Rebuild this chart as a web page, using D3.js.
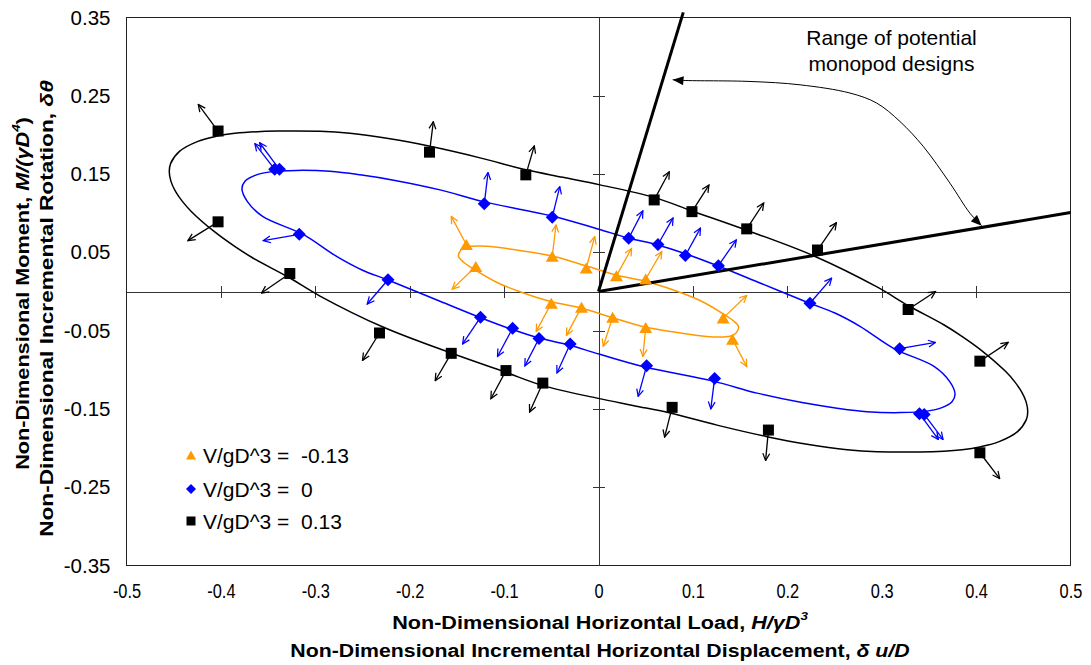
<!DOCTYPE html>
<html><head><meta charset="utf-8">
<script src="https://cdn.jsdelivr.net/npm/d3@7"></script>
<style>
body{margin:0;background:#fff;}
svg{display:block;font-family:Arial,"Liberation Sans",sans-serif;}
</style></head><body>
<svg id="chart" width="1091" height="665"></svg>
<script>
// ---------- DATA ----------
const xTicks = [-0.5,-0.4,-0.3,-0.2,-0.1,0,0.1,0.2,0.3,0.4,0.5];
const yTicks = [0.35,0.25,0.15,0.05,-0.05,-0.15,-0.25,-0.35];
const xInnerTicks = [-0.4,-0.3,-0.2,-0.1,0.1,0.2,0.3,0.4];
const yInnerTicks = [0.25,0.15,0.05,-0.05,-0.15,-0.25];
const seriesNames = ["V/gD^3 =  -0.13","V/gD^3 =  0","V/gD^3 =  0.13"];

// V/gD^3 = -0.13 (orange triangles)
const orangeH = [-0.140,-0.130,-0.049,-0.013,0.019,0.050,-0.050,-0.018,0.015,0.050,0.132,0.142];
const orangeM = [0.060,0.032,0.045,0.030,0.020,0.016,-0.015,-0.020,-0.033,-0.046,-0.034,-0.061];
const orangeTipH = [-0.156,-0.155,-0.045,-0.004,0.035,0.067,-0.066,-0.034,0.005,0.047,0.157,0.157];
const orangeTipM = [0.096,0.003,0.085,0.070,0.055,0.051,-0.051,-0.056,-0.070,-0.083,-0.005,-0.096];
const orangeCurveH = [-0.1483,-0.1457,-0.1393,-0.1255,-0.1096,-0.0832,-0.0493,-0.0143,0.0185,0.0508,0.0794,0.1075,0.1308,0.1425,0.1483,
  0.1457,0.1393,0.1255,0.1096,0.0832,0.0493,0.0143,-0.0185,-0.0508,-0.0794,-0.1075,-0.1308,-0.1425];
const orangeCurveM = [0.0448,0.0531,0.0572,0.0582,0.0569,0.0524,0.0454,0.0332,0.0211,0.0128,0.0019,-0.0115,-0.0275,-0.0371,-0.0448,
  -0.0531,-0.0572,-0.0582,-0.0569,-0.0524,-0.0454,-0.0332,-0.0211,-0.0128,-0.0019,0.0115,0.0275,0.0371];

// V/gD^3 = 0 (blue diamonds)
const blueH = [-0.343,-0.338,-0.317,-0.223,-0.121,-0.049,0.032,0.063,0.092,0.127,0.224,0.319,0.340,0.345,0.123,0.051,-0.030,-0.063,-0.091,-0.125];
const blueM = [0.156,0.156,0.073,0.015,0.112,0.095,0.068,0.060,0.046,0.033,-0.015,-0.073,-0.156,-0.157,-0.111,-0.095,-0.067,-0.060,-0.047,-0.033];
const blueTipH = [-0.364,-0.359,-0.355,-0.245,-0.117,-0.041,0.047,0.079,0.108,0.146,0.247,0.357,0.360,0.365,0.119,0.042,-0.044,-0.078,-0.107,-0.144];
const blueTipM = [0.189,0.190,0.065,-0.016,0.152,0.134,0.103,0.094,0.081,0.066,0.017,-0.065,-0.189,-0.189,-0.150,-0.134,-0.104,-0.095,-0.083,-0.067];
const blueCurveH = [-0.3777,-0.3745,-0.3638,-0.3475,-0.3199,-0.2844,-0.2526,-0.2156,-0.1679,-0.1213,-0.0493,-0.0005,0.0312,0.0630,0.0927,0.1255,0.1711,0.2230,0.2505,0.2770,0.3130,0.3558,0.3721,0.3777,
  0.3745,0.3638,0.3475,0.3199,0.2844,0.2526,0.2156,0.1679,0.1213,0.0493,0.0005,-0.0312,-0.0630,-0.0927,-0.1255,-0.1711,-0.2230,-0.2505,-0.2770,-0.3130,-0.3558,-0.3721];
const blueCurveM = [0.1311,0.1407,0.1483,0.1528,0.1547,0.1535,0.1490,0.1419,0.1298,0.1145,0.0965,0.0799,0.0684,0.0595,0.0480,0.0332,0.0109,-0.0147,-0.0275,-0.0445,-0.0729,-0.0959,-0.1151,-0.1311,
  -0.1407,-0.1483,-0.1528,-0.1547,-0.1535,-0.1490,-0.1419,-0.1298,-0.1145,-0.0965,-0.0799,-0.0684,-0.0595,-0.0480,-0.0332,-0.0109,0.0147,0.0275,0.0445,0.0729,0.0959,0.1151];

// V/gD^3 = 0.13 (black squares)
const blackH = [-0.403,-0.179,-0.077,0.059,0.099,0.157,0.232,0.328,0.404,0.404,0.180,0.078,-0.059,-0.098,-0.156,-0.232,-0.327,-0.403];
const blackM = [0.205,0.178,0.149,0.117,0.102,0.080,0.053,-0.023,-0.089,-0.206,-0.177,-0.148,-0.117,-0.101,-0.079,-0.053,0.023,0.089];
const blackTipH = [-0.424,-0.175,-0.068,0.075,0.117,0.175,0.252,0.357,0.434,0.425,0.177,0.070,-0.073,-0.114,-0.173,-0.250,-0.357,-0.435];
const blackTipM = [0.239,0.217,0.186,0.153,0.136,0.113,0.088,0.000,-0.065,-0.239,-0.216,-0.186,-0.154,-0.137,-0.114,-0.088,-0.002,0.065];
const blackCurveH = [-0.4547,-0.4532,-0.4439,-0.4244,-0.4052,-0.3852,-0.3399,-0.2950,-0.2633,-0.2209,-0.1785,-0.1255,-0.0768,-0.0376,0.0016,0.0588,0.0990,0.1562,0.2283,0.2950,0.3279,0.3657,0.3850,0.4072,0.4314,0.4408,0.4481,0.4529,0.4547,
  0.4532,0.4439,0.4244,0.4052,0.3852,0.3399,0.2950,0.2633,0.2209,0.1785,0.1255,0.0768,0.0376,-0.0016,-0.0588,-0.0990,-0.1562,-0.2283,-0.2950,-0.3279,-0.3657,-0.3850,-0.4072,-0.4314,-0.4408,-0.4481,-0.4529];
const blackCurveM = [0.1532,0.1637,0.1790,0.1918,0.1982,0.2020,0.2049,0.2046,0.2020,0.1950,0.1854,0.1707,0.1554,0.1458,0.1362,0.1202,0.1029,0.0786,0.0454,0.0058,-0.0179,-0.0425,-0.0573,-0.0767,-0.1023,-0.1151,-0.1279,-0.1407,-0.1532,
  -0.1637,-0.1790,-0.1918,-0.1982,-0.2020,-0.2049,-0.2046,-0.2020,-0.1950,-0.1854,-0.1707,-0.1554,-0.1458,-0.1362,-0.1202,-0.1029,-0.0786,-0.0454,-0.0058,0.0179,0.0425,0.0573,0.0767,0.1023,0.1151,0.1279,0.1407];

// Range of potential monopod designs (lines from origin)
const designEndH = [0.0898, 0.5];
const designEndM = [0.3565, 0.1008];
// annotation arrow path
const annotH = [0.0786,0.0898,0.1605,0.2135,0.2664,0.2947,0.3194,0.3441,0.3723,0.3935,0.4059];
const annotM = [0.2705,0.2696,0.2683,0.2640,0.2535,0.2407,0.2171,0.1852,0.1384,0.1000,0.0841];
const annotText = ["Range of potential","monopod designs"];

// ---------- STYLE / LAYOUT ----------
const colors = ["#FF9900","#0000FF","#000000"];
const shapes = ["triangle","diamond","square"];
const svg = d3.select("#chart");
const x = d3.scaleLinear().domain([-0.5,0.5]).range([126.5,1070.5]);
const y = d3.scaleLinear().domain([-0.35,0.35]).range([565.5,17.5]);

const series = [
  {name:seriesNames[0], H:orangeH, M:orangeM, tH:orangeTipH, tM:orangeTipM, cH:orangeCurveH, cM:orangeCurveM},
  {name:seriesNames[1], H:blueH, M:blueM, tH:blueTipH, tM:blueTipM, cH:blueCurveH, cM:blueCurveM},
  {name:seriesNames[2], H:blackH, M:blackM, tH:blackTipH, tM:blackTipM, cH:blackCurveH, cM:blackCurveM}
];

const defs = svg.append("defs");
colors.forEach((c,i)=>{
  defs.append("marker").attr("id","ah"+i).attr("viewBox","0 0 10 10")
    .attr("refX",9).attr("refY",5).attr("markerWidth",9).attr("markerHeight",9)
    .attr("markerUnits","userSpaceOnUse").attr("orient","auto")
    .append("path").attr("d","M1,1.2L9,5L1,8.8").attr("fill","none")
    .attr("stroke",c).attr("stroke-width",1.4).attr("stroke-linejoin","miter");
});
defs.append("marker").attr("id","fillHead").attr("viewBox","0 0 12 10")
  .attr("refX",12).attr("refY",5).attr("markerWidth",12).attr("markerHeight",9)
  .attr("markerUnits","userSpaceOnUse").attr("orient","auto-start-reverse")
  .append("path").attr("d","M0,0L12,5L0,10Z").attr("fill","#000");

// plot border
svg.append("rect").attr("x",x(-0.5)).attr("y",y(0.35))
  .attr("width",x(0.5)-x(-0.5)).attr("height",y(-0.35)-y(0.35))
  .attr("fill","none").attr("stroke","#222").attr("stroke-width",1)
  .attr("shape-rendering","crispEdges");

// central axes
const axX = svg.append("g").attr("transform",`translate(0,${y(0)})`)
  .call(d3.axisBottom(x).tickValues(xInnerTicks).tickSize(12).tickSizeOuter(0).tickFormat(""));
axX.selectAll(".tick line").attr("transform","translate(0,-6)");
const axY = svg.append("g").attr("transform",`translate(${x(0)},0)`)
  .call(d3.axisLeft(y).tickValues(yInnerTicks).tickSize(12).tickSizeOuter(0).tickFormat(""));
axY.selectAll(".tick line").attr("transform","translate(6,0)");
[axX,axY].forEach(a=>{
  a.selectAll("path,line").attr("stroke","#333").attr("shape-rendering","crispEdges");
});

// tick labels
const bx = svg.append("g").attr("transform",`translate(0,${y(-0.35)})`)
  .call(d3.axisBottom(x).tickValues(xTicks).tickSize(0).tickPadding(18)
    .tickFormat(d=> d===0 ? "0" : d.toFixed(1)));
bx.select(".domain").remove();
bx.selectAll("text").attr("font-size",21).attr("font-family","Arial, 'Liberation Sans', sans-serif")
  .attr("fill","#000").attr("transform","scale(0.78,1)");
const ly = svg.append("g").attr("transform",`translate(${x(-0.5)},0)`)
  .call(d3.axisLeft(y).tickValues(yTicks).tickSize(0).tickPadding(16)
    .tickFormat(d=> d.toFixed(2)));
ly.select(".domain").remove();
ly.selectAll("text").attr("font-size",20.5).attr("font-family","Arial, 'Liberation Sans', sans-serif").attr("fill","#000");

// curves
const curveLine = d3.line().curve(d3.curveCatmullRomClosed.alpha(0.5));
series.forEach((s,i)=>{
  const pts = s.cH.map((h,k)=>[x(h), y(s.cM[k])]);
  svg.append("path").attr("d",curveLine(pts)).attr("fill","none")
    .attr("stroke",colors[i]).attr("stroke-width",1.5);
});

// incremental displacement arrows
series.forEach((s,i)=>{
  svg.append("g").selectAll("line").data(s.H).join("line")
    .attr("x1",(h)=>x(h)).attr("y1",(h,k)=>y(s.M[k]))
    .attr("x2",(h,k)=>x(s.tH[k])).attr("y2",(h,k)=>y(s.tM[k]))
    .attr("stroke",colors[i]).attr("stroke-width",1.3)
    .attr("marker-end",`url(#ah${i})`);
});

// monopod design lines
designEndH.forEach((h,k)=>{
  svg.append("line").attr("x1",x(0)).attr("y1",y(0))
    .attr("x2",x(h)).attr("y2",y(designEndM[k]))
    .attr("stroke","#000").attr("stroke-width",3).attr("stroke-linecap","butt");
});

// markers
function shapePath(type, big){
  if(type==="square"){ const s = big?11:9; return `M${-s/2},${-s/2}h${s}v${s}h${-s}Z`; }
  if(type==="diamond"){ const r = big?6.5:5; return `M0,${-r}L${r},0L0,${r}L${-r},0Z`; }
  const w = big?13:10, hh = big?11:9;
  return `M0,${-hh/2}L${w/2},${hh/2}L${-w/2},${hh/2}Z`;
}
series.forEach((s,i)=>{
  svg.append("g").selectAll("path").data(s.H).join("path")
    .attr("d",shapePath(shapes[i],true))
    .attr("transform",(h,k)=>`translate(${x(h)},${y(s.M[k])})`)
    .attr("fill",colors[i]);
});

// annotation
const annLine = d3.line().curve(d3.curveCatmullRom.alpha(0.5));
svg.append("path").attr("d",annLine(annotH.map((h,k)=>[x(h),y(annotM[k])])))
  .attr("fill","none").attr("stroke","#000").attr("stroke-width",1)
  .attr("marker-start","url(#fillHead)").attr("marker-end","url(#fillHead)");
annotText.forEach((t,k)=>{
  svg.append("text").attr("x",891.5).attr("y",[45,71][k]).attr("text-anchor","middle")
    .attr("font-size",21).attr("fill","#000").text(t);
});

// legend
const legY = [455,489,521];
series.forEach((s,i)=>{
  svg.append("path").attr("d",shapePath(shapes[i],false))
    .attr("transform",`translate(191,${legY[i]})`).attr("fill",colors[i]);
  svg.append("text").attr("x",203).attr("y",legY[i]+7.5).attr("font-size",21)
    .style("white-space","pre").attr("fill","#000").text(s.name);
});

// titles (fitted to measured widths)
function fit(t, width){ return width / t.node().getComputedTextLength(); }
function title(parts, size){
  const t = svg.append("text").attr("font-weight","bold").attr("font-size",size)
    .attr("text-anchor","middle").attr("fill","#000");
  parts.forEach(p=>{
    const ts = t.append("tspan").text(p.t);
    if(p.i) ts.attr("font-style","italic");
    if(p.sup) ts.attr("font-size",size*0.62).attr("dy",-size*0.45);
    if(p.down) ts.attr("dy",size*0.45);
  });
  return t;
}
const xt1 = title([{t:"Non-Dimensional Horizontal Load, "},{t:"H/γD",i:1},{t:"3",i:1,sup:1}],19);
xt1.attr("transform",`translate(600,629) scale(${fit(xt1,416)},1)`);
const xt2 = title([{t:"Non-Dimensional Incremental Horizontal Displacement, "},{t:"δ u/D",i:1}],19);
xt2.attr("transform",`translate(600,657) scale(${fit(xt2,620)},1)`);
const yt1 = title([{t:"Non-Dimensional Moment, "},{t:"M/(γD",i:1},{t:"4",i:1,sup:1},{t:")",down:1}],19);
yt1.attr("transform",`translate(29,293.5) rotate(-90) scale(${fit(yt1,353)},1)`);
const yt2 = title([{t:"Non-Dimensional Incremental Rotation, "},{t:"δθ",i:1}],19);
yt2.attr("transform",`translate(53,308.5) rotate(-90) scale(${fit(yt2,457)},1)`);
</script>
</body></html>
